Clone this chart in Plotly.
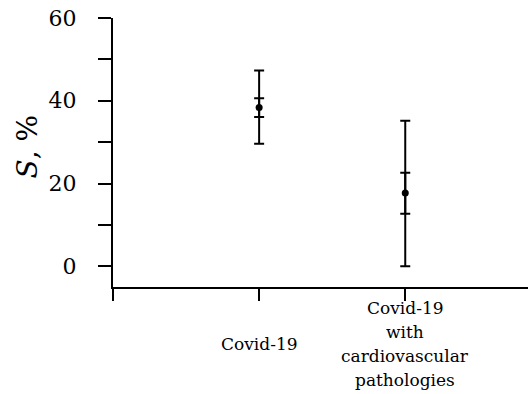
import plotly.graph_objects as go

categories = ["Covid-19", "Covid-19<br>with<br>cardiovascular<br>pathologies"]
label_lines = [["Covid-19"], ["Covid-19", "with", "cardiovascular", "pathologies"]]
x_pos = [1, 2]
means = [38.4, 17.7]
inner_hi = [40.6, 22.6]
inner_lo = [36.1, 12.7]
outer_hi = [47.3, 35.2]
outer_lo = [29.6, 0.0]
y_ticks = [0, 10, 20, 30, 40, 50, 60]
y_tick_text = ["0", "", "20", "", "40", "", "60"]

FONT = "DejaVu Serif"

fig = go.Figure()
fig.add_trace(go.Scatter(
    x=x_pos, y=means, mode="markers",
    marker=dict(color="black", size=1),
    error_y=dict(type="data", symmetric=False,
                 array=[h - m for h, m in zip(outer_hi, means)],
                 arrayminus=[m - l for m, l in zip(means, outer_lo)],
                 color="black", thickness=2, width=5),
    showlegend=False))
fig.add_trace(go.Scatter(
    x=x_pos, y=means, mode="markers",
    marker=dict(color="black", size=7),
    error_y=dict(type="data", symmetric=False,
                 array=[h - m for h, m in zip(inner_hi, means)],
                 arrayminus=[m - l for m, l in zip(means, inner_lo)],
                 color="black", thickness=2, width=5),
    showlegend=False))

fig.update_layout(
    width=528, height=394,
    margin=dict(l=113, r=0, t=18, b=107),
    paper_bgcolor="white", plot_bgcolor="white",
    font=dict(family=FONT, color="black"),
    xaxis=dict(range=[0, 2.84], showline=True, linecolor="black", linewidth=2,
               ticks="outside", ticklen=12, tickwidth=2, tickcolor="black",
               tickvals=[0] + x_pos, ticktext=["", "", ""], showgrid=False,
               zeroline=False),
    yaxis=dict(range=[-5, 60], showline=True, linecolor="black", linewidth=2,
               ticks="outside", ticklen=13, tickwidth=2, tickcolor="black",
               tickvals=y_ticks, ticktext=y_tick_text, showgrid=False,
               zeroline=False, tickfont=dict(size=22, family=FONT),
               ticklabelstandoff=17),
)

fig.add_annotation(text="<i>S</i>, %", xref="paper", yref="paper", x=0, y=0.5,
                   xshift=-86, yshift=6, textangle=-90, showarrow=False,
                   font=dict(size=28, family=FONT), xanchor="center", yanchor="middle")

# x category labels, one annotation per line
line_h = 24
for xp, lines in zip(x_pos, label_lines):
    n = len(lines)
    for i, t in enumerate(lines):
        offset = (i - (n - 1) / 2) * line_h
        fig.add_annotation(text=t, x=xp, xref="x", yref="paper", y=0,
                           yshift=-57 - offset,
                           showarrow=False, font=dict(size=17, family=FONT),
                           xanchor="center", yanchor="middle")

fig.write_html("out.html")
